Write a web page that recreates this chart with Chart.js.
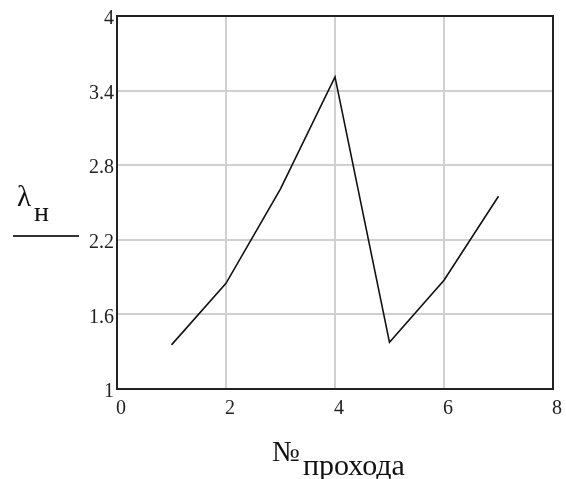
<!DOCTYPE html>
<html>
<head>
<meta charset="utf-8">
<script src="https://cdn.jsdelivr.net/npm/chart.js@4/dist/chart.umd.min.js"></script>
<style>
  html, body { margin: 0; padding: 0; background: #fff; }
  #wrap { width: 566px; height: 479px; position: relative; }
</style>
</head>
<body>
<div id="wrap"><canvas id="chart"></canvas></div>
<script>
// pass number and lambda value
const passNo = [1, 2, 3, 4, 5, 6, 7];
const lambdaH = [1.355, 1.85, 2.61, 3.51, 1.375, 1.875, 2.55];

const xTicks = [0, 2, 4, 6, 8];
const yTicks = [1, 1.6, 2.2, 2.8, 3.4, 4];

const serif = "'Liberation Serif', 'Times New Roman', serif";

(function () {
  const canvas = document.getElementById("chart");

  // frame round the plot area
  const frame = {
    id: "frame",
    beforeDatasetsDraw: function (chart) {
      const a = chart.chartArea;
      const ctx = chart.ctx;
      ctx.save();
      ctx.strokeStyle = "#222";
      ctx.lineWidth = 2;
      ctx.strokeRect(a.left, a.top, a.right - a.left, a.bottom - a.top);
      ctx.restore();
    },
  };

  // Mathcad-style axis titles
  const titles = {
    id: "titles",
    afterDraw: function (chart) {
      const ctx = chart.ctx;
      ctx.save();
      ctx.fillStyle = "#111";
      ctx.textBaseline = "alphabetic";
      ctx.textAlign = "left";
      ctx.font = "29px " + serif;
      ctx.fillText("λ", 17, 206);
      ctx.font = "28px " + serif;
      ctx.fillText("н", 34, 221);
      ctx.strokeStyle = "#333";
      ctx.lineWidth = 2;
      ctx.beginPath();
      ctx.moveTo(13, 236);
      ctx.lineTo(79, 236);
      ctx.stroke();

      ctx.font = "29px " + serif;
      ctx.fillText("№", 272, 461);
      ctx.font = "30px " + serif;
      ctx.fillText("прохода", 303, 475);
      ctx.restore();
    },
  };

  new Chart(canvas, {
    type: "scatter",
    data: {
      datasets: [
        {
          data: passNo.map(function (x, i) {
            return { x: x, y: lambdaH[i] };
          }),
          showLine: true,
          borderColor: "#111",
          borderWidth: 1.6,
          pointRadius: 0,
          pointHoverRadius: 0,
          tension: 0,
        },
      ],
    },
    options: {
      responsive: true,
      maintainAspectRatio: false,
      animation: false,
      layout: { padding: { top: 16, right: 11, left: 0, bottom: 0 } },
      plugins: { legend: { display: false }, tooltip: { enabled: false } },
      scales: {
        x: {
          type: "linear",
          min: 0,
          max: 8,
          afterBuildTicks: function (s) {
            s.ticks = xTicks.map(function (v) { return { value: v }; });
          },
          afterFit: function (s) { s.height = 90; },
          ticks: {
            color: "#222",
            font: { family: serif, size: 20 },
            padding: 8,
            labelOffset: 4,
            maxRotation: 0,
          },
          grid: { color: "#d0d0d0", lineWidth: 2, drawTicks: false },
          border: { display: false },
        },
        y: {
          min: 1,
          max: 4,
          afterBuildTicks: function (s) {
            s.ticks = yTicks.map(function (v) { return { value: v }; });
          },
          afterFit: function (s) { s.width = 117; },
          ticks: {
            color: "#222",
            font: { family: serif, size: 20 },
            padding: 3,
            labelOffset: 3,
            callback: function (v) { return String(Math.round(v * 10) / 10); },
          },
          grid: { color: "#d0d0d0", lineWidth: 2, drawTicks: false },
          border: { display: false },
        },
      },
    },
    plugins: [frame, titles],
  });
})();
</script>
</body>
</html>
